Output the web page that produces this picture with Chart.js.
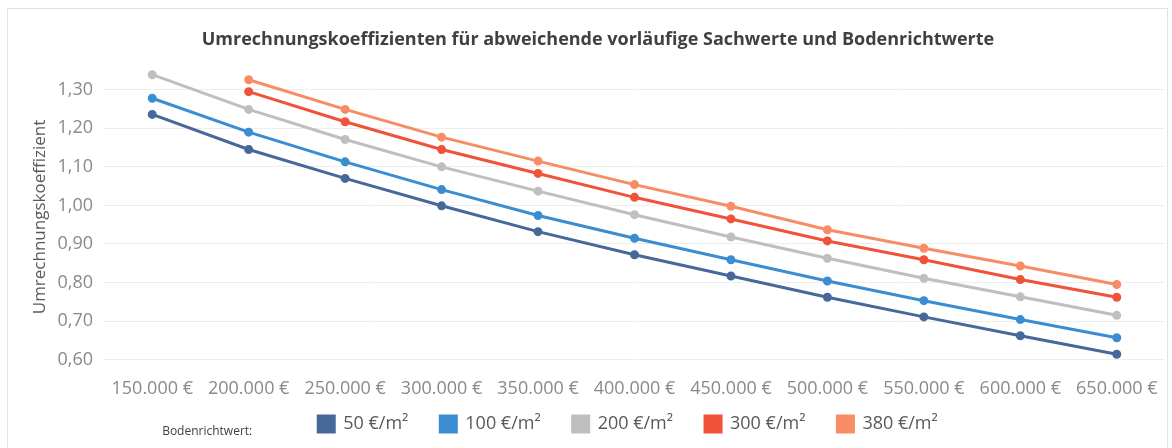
<!DOCTYPE html>
<html>
<head>
<meta charset="utf-8">
<script src="https://cdn.jsdelivr.net/npm/chart.js@4"></script>
<style>
  html, body { margin: 0; padding: 0; background: #fff; }
  #wrap { width: 1172px; height: 448px; }
</style>
</head>
<body>
<div id="wrap"><canvas id="myChart" width="1172" height="448"></canvas></div>
<script>
// Kaufpreise (x-Achse)
const categories = ['150.000 €', '200.000 €', '250.000 €', '300.000 €', '350.000 €', '400.000 €',
                    '450.000 €', '500.000 €', '550.000 €', '600.000 €', '650.000 €'];

const seriesNames = ['50 €/m²', '100 €/m²', '200 €/m²', '300 €/m²', '380 €/m²'];

// Umrechnungskoeffizienten je Bodenrichtwert
const brw50  = [1.236, 1.145, 1.070, 0.999, 0.932, 0.872, 0.817, 0.762, 0.711, 0.662, 0.614];
const brw100 = [1.278, 1.190, 1.113, 1.041, 0.974, 0.915, 0.859, 0.804, 0.753, 0.704, 0.657];
const brw200 = [1.339, 1.249, 1.171, 1.100, 1.037, 0.976, 0.918, 0.863, 0.811, 0.763, 0.715];
const brw300 = [null, 1.295, 1.217, 1.145, 1.083, 1.021, 0.965, 0.908, 0.859, 0.808, 0.762];
const brw380 = [null, 1.326, 1.249, 1.177, 1.115, 1.054, 0.998, 0.937, 0.889, 0.843, 0.795];

const yTicks = [0.6, 0.7, 0.8, 0.9, 1.0, 1.1, 1.2, 1.3];

const colors = ['#46689a', '#3b8dd2', '#bfbfbf', '#f0523a', '#f78d66'];
const allSeries = [brw50, brw100, brw200, brw300, brw380];

const FONT = '"Open Sans", "Noto Sans", sans-serif';
const legendShift = 30;
const legendMidY = 424;

const extras = {
  id: 'extras',
  afterLayout(chart) {
    // Legende wie im Original platzieren
    const lg = chart.legend;
    const P = lg.options.labels.padding;
    lg.left += legendShift;
    lg.right += legendShift;
    lg.top = legendMidY - 9 - P;
    lg.height = 60;
    lg.bottom = lg.top + lg.height;
  },
  beforeDraw(chart) {
    const ctx = chart.ctx;
    ctx.save();
    ctx.strokeStyle = '#e2e2e2';
    ctx.lineWidth = 1;
    ctx.strokeRect(7.5, 8.5, 1160, 460);
    ctx.restore();
  },
  afterDraw(chart) {
    const lg = chart.legend;
    const P = lg.options.labels.padding;
    const x0 = (lg.left + P + lg.right - lg.lineWidths[0]) / 2;
    const ctx = chart.ctx;
    ctx.save();
    ctx.font = '12px ' + FONT;
    ctx.fillStyle = '#404040';
    ctx.textAlign = 'right';
    ctx.textBaseline = 'middle';
    ctx.fillText('Bodenrichtwert:', x0 - 66, legendMidY + 8);
    ctx.restore();
  }
};

const ctx = document.getElementById('myChart');
new Chart(ctx, {
  type: 'line',
  data: {
    labels: categories,
    datasets: allSeries.map((d, i) => ({
      label: seriesNames[i],
      data: d,
      borderColor: colors[i],
      backgroundColor: colors[i],
      pointBackgroundColor: colors[i],
      pointBorderColor: colors[i],
      borderWidth: 3,
      pointRadius: 3,
      fill: false,
      tension: 0
    }))
  },
  options: {
    responsive: false,
    animation: false,
    layout: { padding: { top: 22, left: 26, right: 2, bottom: 4 } },
    plugins: {
      title: {
        display: true,
        text: 'Umrechnungskoeffizienten für abweichende vorläufige Sachwerte und Bodenrichtwerte',
        color: '#404040',
        font: { family: FONT, size: 18, weight: 'bold' },
        padding: { top: 7, bottom: 16 }
      },
      legend: {
        position: 'bottom',
        maxHeight: 33,
        labels: {
          boxWidth: 16,
          boxHeight: 16,
          padding: 32,
          color: '#595959',
          font: { family: FONT, size: 18 }
        }
      },
      tooltip: { enabled: false }
    },
    scales: {
      x: {
        offset: true,
        grid: { display: false, drawTicks: false },
        border: { display: false },
        ticks: {
          color: '#8a8a8a',
          font: { family: FONT, size: 18 },
          padding: 11,
          maxRotation: 0,
          autoSkip: false
        }
      },
      y: {
        min: 0.58,
        max: 1.36,
        afterBuildTicks(s) { s.ticks = yTicks.map(v => ({ value: v })); },
        grid: { color: '#eeeeee', drawTicks: false },
        border: { display: false },
        ticks: {
          color: '#8a8a8a',
          font: { family: FONT, size: 18 },
          padding: 11,
          callback: v => v.toFixed(2).replace('.', ',')
        },
        title: {
          display: true,
          text: 'Umrechnungskoeffizient',
          color: '#595959',
          font: { family: FONT, size: 17 },
          padding: { top: 4, bottom: 4 }
        },
        afterFit(s) { s.width = 78; }
      }
    }
  },
  plugins: [extras]
});
</script>
</body>
</html>
